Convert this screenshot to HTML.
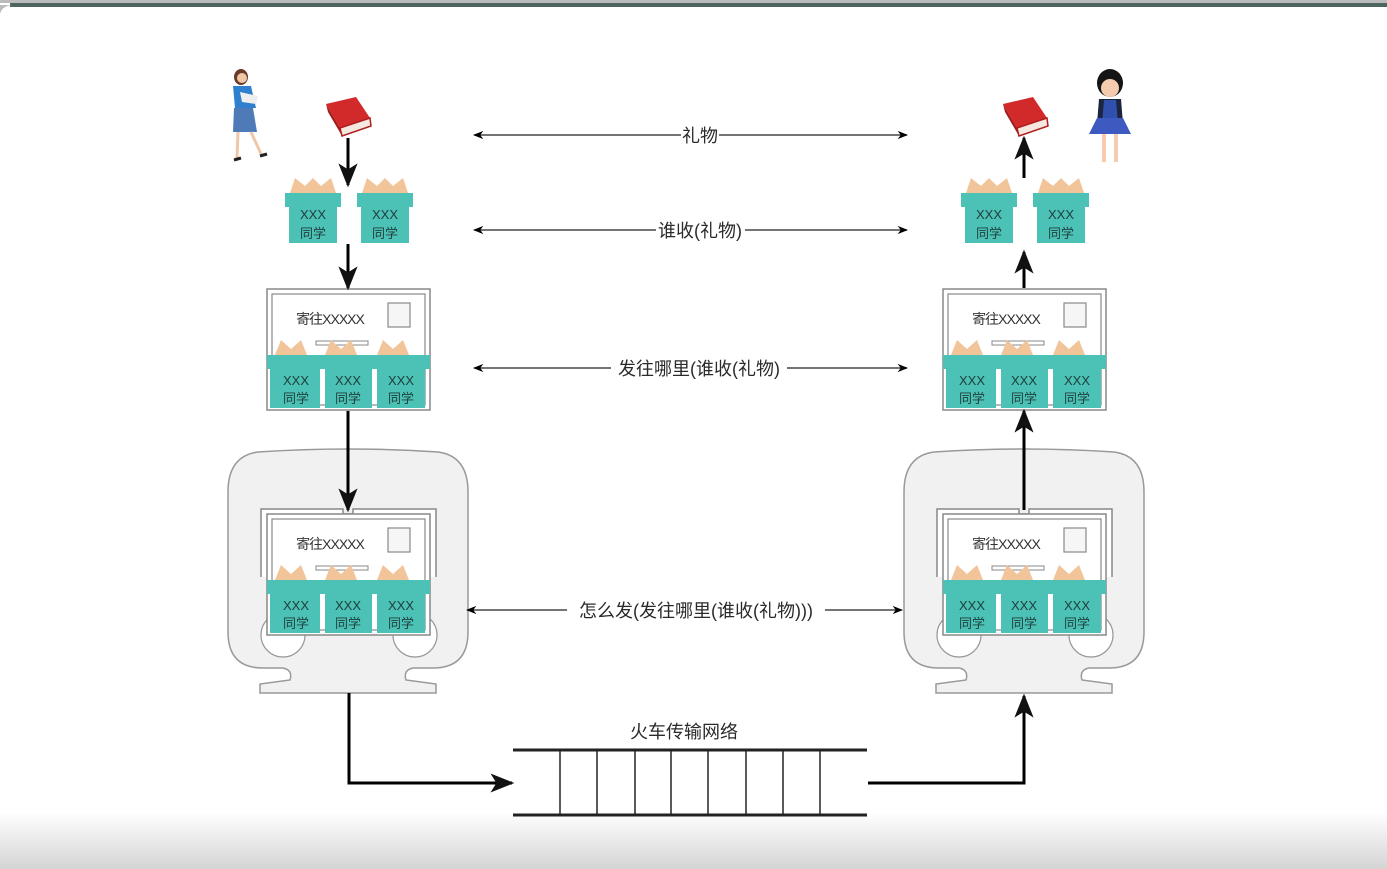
<!DOCTYPE html>
<html><head><meta charset="utf-8"><style>
html,body{margin:0;padding:0;background:#fff;}
svg{display:block;font-family:"Liberation Sans","Noto Sans CJK SC",sans-serif;}
</style></head><body>
<svg width="1387" height="869" viewBox="0 0 1387 869" xmlns="http://www.w3.org/2000/svg">
<defs>
<linearGradient id="bot" x1="0" y1="0" x2="0" y2="1">
<stop offset="0" stop-color="#ffffff"/><stop offset="1" stop-color="#d4d4d4"/></linearGradient>
<marker id="ah" viewBox="0 0 10 10" refX="9" refY="5" markerWidth="8" markerHeight="8" orient="auto-start-reverse"><path d="M0,1 L10,5 L0,9 L3,5 Z" fill="#000"/></marker>
<marker id="as" viewBox="0 0 10 10" refX="9" refY="5" markerWidth="8" markerHeight="8" orient="auto-start-reverse"><path d="M0,1 L10,5 L0,9 L2.5,5 Z" fill="#111"/></marker>
<g id="gift">
<path d="M5,15 L10,0 L20,8 L28,0 L36,8 L46,0 L51,15 Z" fill="#f2c49a"/>
<rect x="0" y="15" width="56" height="14" fill="#4cc1b6"/>
<rect x="4" y="29" width="48" height="36" fill="#4cc1b6"/>
<text x="28" y="41" font-size="13" fill="#1f3f3c" text-anchor="middle">XXX</text>
<text x="28" y="60" font-size="13" fill="#1f3f3c" text-anchor="middle">同学</text>
</g>
<g id="env">
<rect x="0" y="0" width="163" height="121" fill="#fff" stroke="#888" stroke-width="1.5"/>
<rect x="5" y="5" width="153" height="111" fill="#fff" stroke="#888" stroke-width="1.2"/>
<text x="63" y="35" font-size="14" fill="#333" text-anchor="middle" letter-spacing="-1">寄往XXXXX</text>
<rect x="121" y="14" width="22" height="24" fill="#f6f6f6" stroke="#888" stroke-width="1.2"/>
<rect x="49" y="52" width="52" height="4" fill="#fff" stroke="#888"/>
<path d="M8,66 L14,51 L24,60 L34,51 L40,66 Z M58,66 L64,51 L74,60 L84,51 L90,66 Z M110,66 L116,51 L126,60 L136,51 L142,66 Z" fill="#f2c49a"/>
<rect x="0" y="66" width="163" height="14" fill="#4cc1b6"/>
<rect x="3" y="80" width="50" height="39" fill="#4cc1b6"/>
<rect x="58" y="80" width="47" height="39" fill="#4cc1b6"/>
<rect x="110" y="80" width="48" height="39" fill="#4cc1b6"/>
<g font-size="13" fill="#1f3f3c" text-anchor="middle">
<text x="29" y="96">XXX</text><text x="29" y="114">同学</text>
<text x="81" y="96">XXX</text><text x="81" y="114">同学</text>
<text x="134" y="96">XXX</text><text x="134" y="114">同学</text></g>
</g>
<g id="train">
<path d="M30,0 Q120,-6 210,0 Q240,4 240,40 L240,180 Q240,216 205,216 L185,216 Q175,218 178,228 L208,232 L208,241 L32,241 L32,232 L62,228 Q65,218 55,216 L35,216 Q0,216 0,180 L0,40 Q0,4 30,0 Z" fill="#f1f1f1" stroke="#999" stroke-width="1.5"/>
<circle cx="55" cy="183" r="22" fill="#fff" stroke="#999" stroke-width="1.2"/>
<circle cx="187" cy="183" r="22" fill="#fff" stroke="#999" stroke-width="1.2"/>
<path d="M33,125 L33,57 L115,57 L115,62 L125,62 L125,57 L208,57 L208,125" fill="#fff" stroke="#888" stroke-width="1.5"/>
<use href="#env" x="39" y="62"/>
</g>
</defs>
<rect x="0" y="0" width="1387" height="869" fill="#fff"/>
<rect x="0" y="0" width="1387" height="3" fill="#bbb"/>
<rect x="10" y="3" width="1377" height="4" fill="#4d6461"/>
<path d="M0,14 Q2,6 12,5 L0,5Z" fill="#bbb"/>
<rect x="0" y="812" width="1387" height="57" fill="url(#bot)"/>

<g>
<ellipse cx="241" cy="77" rx="7" ry="8" fill="#6b3a2a"/>
<circle cx="242" cy="78" r="5" fill="#f0c8a8"/>
<path d="M233,86 L251,86 L256,108 L235,108 Z" fill="#2e7fd0"/>
<path d="M240,92 L258,96 L256,104 L242,102Z" fill="#eee"/>
<path d="M234,108 L253,108 L257,132 L233,132Z" fill="#4e7bb8"/>
<path d="M238,132 L237,158 M251,132 L262,156" stroke="#f0c8a8" stroke-width="3"/>
<path d="M234,160 L241,158 M260,156 L267,154" stroke="#222" stroke-width="3"/>
</g>
<g>
<ellipse cx="1110" cy="83" rx="13" ry="14" fill="#151515"/>
<circle cx="1110" cy="88" r="9" fill="#f5cdae"/>
<path d="M1099,99 L1121,99 L1123,124 L1097,124Z" fill="#1c2540"/>
<path d="M1104,100 L1116,100 L1118,124 L1102,124Z" fill="#3050b0"/>
<path d="M1097,118 L1123,118 L1131,134 L1089,134Z" fill="#3c5ac0"/>
<path d="M1104,134 L1104,162 M1116,134 L1116,162" stroke="#f5cdae" stroke-width="4"/>
</g>
<g id="book">
<path d="M326,104 L356,97 L370,118 L340,128 Z" fill="#d22a2a"/>
<path d="M340,128 L370,118 L371,126 L342,136 Z" fill="#f4e8e0" stroke="#b01e1e" stroke-width="1.5"/>
<path d="M326,104 L340,128 L342,136 L328,112Z" fill="#a51a1a"/>
</g>
<use href="#book" x="677" y="0"/>

<use href="#gift" x="285" y="178"/><use href="#gift" x="357" y="178"/>
<use href="#gift" x="961" y="178"/><use href="#gift" x="1033" y="178"/>
<use href="#env" x="267" y="289"/><use href="#env" x="943" y="289"/>
<use href="#train" x="228" y="452"/><use href="#train" x="904" y="452"/>

<g stroke="#000" stroke-width="3" fill="none" marker-end="url(#as)">
<line x1="348" y1="138" x2="348" y2="185"/>
<line x1="348" y1="244" x2="348" y2="288"/>
<line x1="348" y1="411" x2="348" y2="510"/>
<line x1="1024" y1="178" x2="1024" y2="138"/>
<line x1="1024" y1="288" x2="1024" y2="252"/>
<line x1="1024" y1="510" x2="1024" y2="411"/>
<path d="M349,693 L349,783 L512,783"/>
<path d="M868,783 L1024,783 L1024,696"/>
</g>

<g stroke="#222" stroke-width="1.3" marker-start="url(#ah)" marker-end="url(#ah)">
<line x1="474" y1="135" x2="907" y2="135"/>
<line x1="474" y1="230" x2="907" y2="230"/>
<line x1="474" y1="368" x2="907" y2="368"/>
<line x1="467" y1="610" x2="902" y2="610"/>
</g>
<g font-size="18" fill="#2a2a2a" text-anchor="middle">
<rect x="681" y="124" width="38" height="22" fill="#fff"/>
<text x="700" y="142">礼物</text>
<rect x="656" y="219" width="89" height="22" fill="#fff"/>
<text x="700" y="237">谁收(礼物)</text>
<rect x="611" y="357" width="176" height="22" fill="#fff"/>
<text x="699" y="375">发往哪里(谁收(礼物)</text>
<rect x="567" y="599" width="258" height="22" fill="#fff"/>
<text x="696" y="617">怎么发(发往哪里(谁收(礼物)))</text>
<text x="684" y="738">火车传输网络</text>
</g>

<g stroke="#222">
<line x1="513" y1="750" x2="867" y2="750" stroke-width="3"/>
<line x1="513" y1="815" x2="867" y2="815" stroke-width="3"/>
<g stroke-width="1.5">
<line x1="560" y1="750" x2="560" y2="815"/><line x1="597" y1="750" x2="597" y2="815"/>
<line x1="635" y1="750" x2="635" y2="815"/><line x1="671" y1="750" x2="671" y2="815"/>
<line x1="708" y1="750" x2="708" y2="815"/><line x1="746" y1="750" x2="746" y2="815"/>
<line x1="783" y1="750" x2="783" y2="815"/><line x1="820" y1="750" x2="820" y2="815"/>
</g></g>
</svg>
</body></html>
